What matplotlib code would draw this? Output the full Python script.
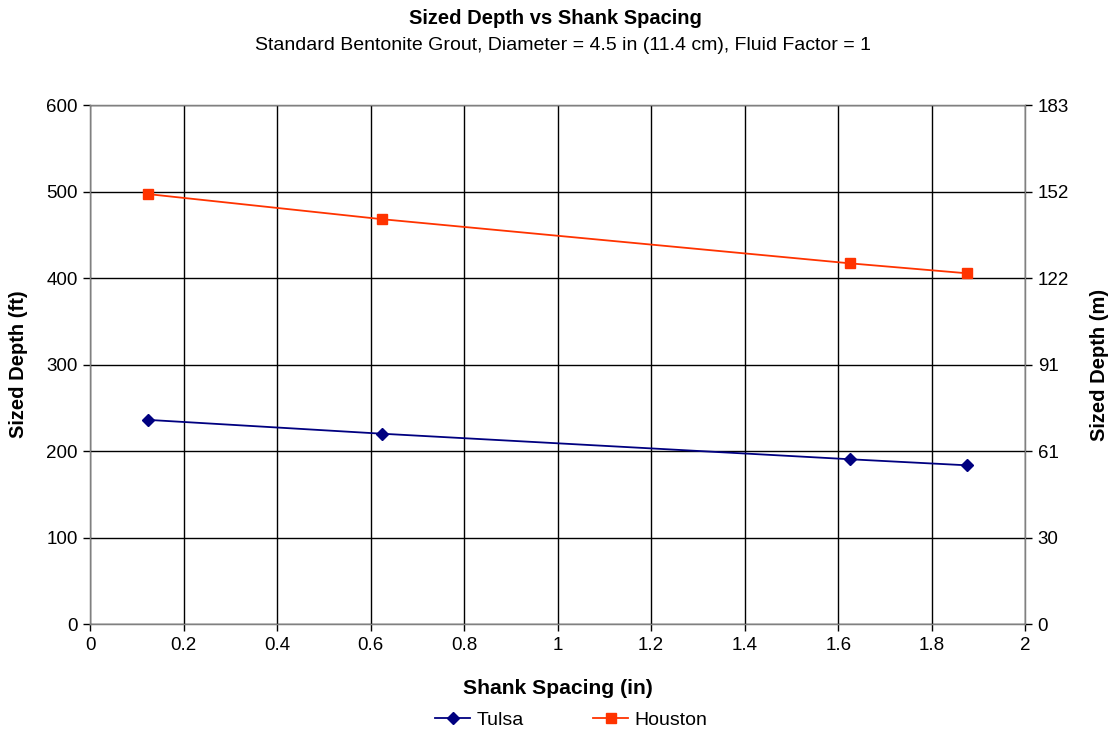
import matplotlib
matplotlib.use("Agg")
import matplotlib.pyplot as plt

plt.rcParams['font.family'] = ['Liberation Sans', 'DejaVu Sans']

shank_spacing = [0.125, 0.625, 1.625, 1.875]
tulsa_depth = [236, 220, 190.5, 183.5]
houston_depth = [497, 468, 417, 405.5]
x_ticks = [0, 0.2, 0.4, 0.6, 0.8, 1.0, 1.2, 1.4, 1.6, 1.8, 2.0]
x_tick_labels = ['0', '0.2', '0.4', '0.6', '0.8', '1', '1.2', '1.4', '1.6', '1.8', '2']
y_ticks = [0, 100, 200, 300, 400, 500, 600]
right_tick_labels = ['0', '30', '61', '91', '122', '152', '183']

TICK_FS = 13.5
BOLD_FS = 14.5

fig = plt.figure(figsize=(11.2, 7.32), dpi=100)
ax = fig.add_axes([0.0804, 0.1475, 0.835, 0.709])

ax.plot(shank_spacing, tulsa_depth, color='#000080', marker='D', markersize=6,
        linewidth=1.3, label='Tulsa', zorder=3)
ax.plot(shank_spacing, houston_depth, color='#FF3300', marker='s', markersize=7,
        linewidth=1.3, label='Houston', zorder=3)

ax.set_xlim(0, 2)
ax.set_ylim(0, 600)
ax.set_xticks(x_ticks, x_tick_labels)
ax.set_yticks(y_ticks)
ax.grid(True, color='black', linewidth=1.0)
ax.set_axisbelow(True)
for s in ax.spines.values():
    s.set_color('#808080')
    s.set_linewidth(1.0)
ax.tick_params(direction='out', length=5, width=1, colors='black', labelsize=TICK_FS, pad=4)

ax.set_xlabel('Shank Spacing (in)', fontsize=15.2, fontweight='bold', labelpad=18)
ax.set_ylabel('Sized Depth (ft)', fontsize=BOLD_FS, fontweight='bold', labelpad=13)

ax2 = ax.twinx()
ax2.set_xlim(0, 2)
ax2.set_ylim(0, 600)
ax2.set_yticks(y_ticks, right_tick_labels)
ax2.tick_params(direction='out', length=5, width=1, labelsize=TICK_FS, pad=4)
for s in ax2.spines.values():
    s.set_color('#808080')
ax2.set_ylabel('Sized Depth (m)', fontsize=BOLD_FS, fontweight='bold', labelpad=15)

fig.text(0.4955, 0.975, 'Sized Depth vs Shank Spacing', ha='center', va='center',
         fontsize=BOLD_FS, fontweight='bold')
fig.text(0.503, 0.938, 'Standard Bentonite Grout, Diameter = 4.5 in (11.4 cm), Fluid Factor = 1',
         ha='center', va='center', fontsize=14)

fig.legend(loc='center', bbox_to_anchor=(0.51, 0.016), ncol=2, frameon=False,
           fontsize=14, columnspacing=3.6, handlelength=1.8, handletextpad=0.3)

fig.savefig('out.png', dpi=100)
